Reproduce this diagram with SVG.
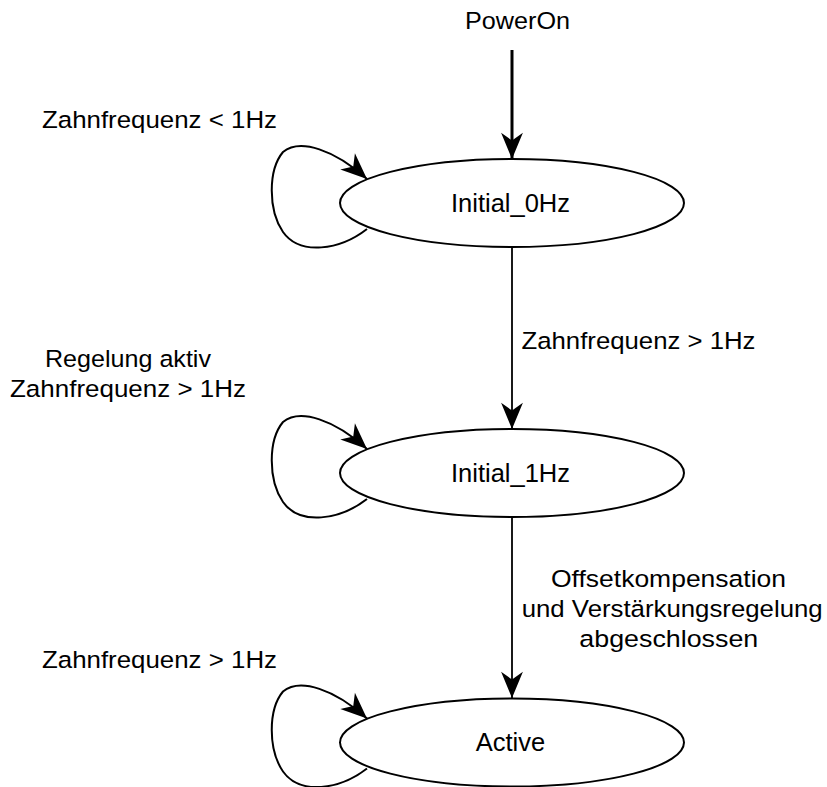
<svg xmlns="http://www.w3.org/2000/svg" width="827" height="787" viewBox="0 0 827 787">
  <style>
    .state { fill: #ffffff; stroke: #000000; stroke-width: 2; }
    .name { font-family: "Liberation Sans", Arial, sans-serif; font-size: 25.5px; fill: #000000; text-anchor: middle; }
    .label { font-family: "Liberation Sans", Arial, sans-serif; font-size: 24.5px; fill: #000000; }
    .edge { fill: none; stroke: #000000; stroke-width: 1.8; marker-end: url(#head); }
    .loop { fill: none; stroke: #000000; stroke-width: 2; marker-end: url(#head); }
    .entry { fill: none; stroke: #000000; stroke-width: 3; marker-end: url(#head); }
  </style>
  <defs>
    <marker id="head" markerUnits="userSpaceOnUse" markerWidth="30" markerHeight="24" viewBox="-25 -11 26 22" refX="0" refY="0" orient="auto" overflow="visible">
      <path d="M0,0 L-24,-10 L-17,0 L-24,10 Z" fill="#000000"/>
    </marker>
  </defs>

  <rect width="827" height="787" fill="#ffffff"/>

  <!-- transitions -->
  <g id="connectors">
    <path class="entry" d="M512,50 L512,159"/>
    <path class="edge" d="M512,247 L512,429"/>
    <path class="edge" d="M512,517 L512,698"/>
    <path class="loop" d="M367,229 C340,250 300,256 283,232 C268,210 268,170 283,152 C300,138 335,150 367,179"/>
    <path class="loop" d="M367,499 C340,520 300,526 283,502 C268,480 268,440 283,422 C300,408 335,420 367,449"/>
    <path class="loop" d="M367,768.5 C340,789.5 300,795.5 283,771.5 C268,749.5 268,709.5 283,691.5 C300,677.5 335,689.5 367,718.5"/>
  </g>

  <!-- transition labels -->
  <g id="labels">
    <text class="label" x="465" y="29" textLength="105" lengthAdjust="spacingAndGlyphs">PowerOn</text>
    <text class="label" x="42" y="128" textLength="235" lengthAdjust="spacingAndGlyphs">Zahnfrequenz &lt; 1Hz</text>
    <text class="label" x="521.5" y="349" textLength="234" lengthAdjust="spacingAndGlyphs">Zahnfrequenz &gt; 1Hz</text>
    <text class="label" x="45" y="367" textLength="166" lengthAdjust="spacingAndGlyphs">Regelung aktiv</text>
    <text class="label" x="10" y="397" textLength="236" lengthAdjust="spacingAndGlyphs">Zahnfrequenz &gt; 1Hz</text>
    <text class="label" x="551" y="587" textLength="235" lengthAdjust="spacingAndGlyphs">Offsetkompensation</text>
    <text class="label" x="521.7" y="617" textLength="301" lengthAdjust="spacingAndGlyphs">und Verstärkungsregelung</text>
    <text class="label" x="579.3" y="647" textLength="179" lengthAdjust="spacingAndGlyphs">abgeschlossen</text>
    <text class="label" x="42" y="668" textLength="235" lengthAdjust="spacingAndGlyphs">Zahnfrequenz &gt; 1Hz</text>
  </g>

  <!-- states -->
  <g id="initial_0hz">
    <ellipse class="state" cx="512" cy="203" rx="172" ry="44"/>
    <text class="name" x="510.5" y="212">Initial_0Hz</text>
  </g>
  <g id="initial_1hz">
    <ellipse class="state" cx="512" cy="473" rx="172" ry="44"/>
    <text class="name" x="510.5" y="482">Initial_1Hz</text>
  </g>
  <g id="active">
    <ellipse class="state" cx="512" cy="742.5" rx="172" ry="44"/>
    <text class="name" x="510.5" y="751">Active</text>
  </g>
</svg>
